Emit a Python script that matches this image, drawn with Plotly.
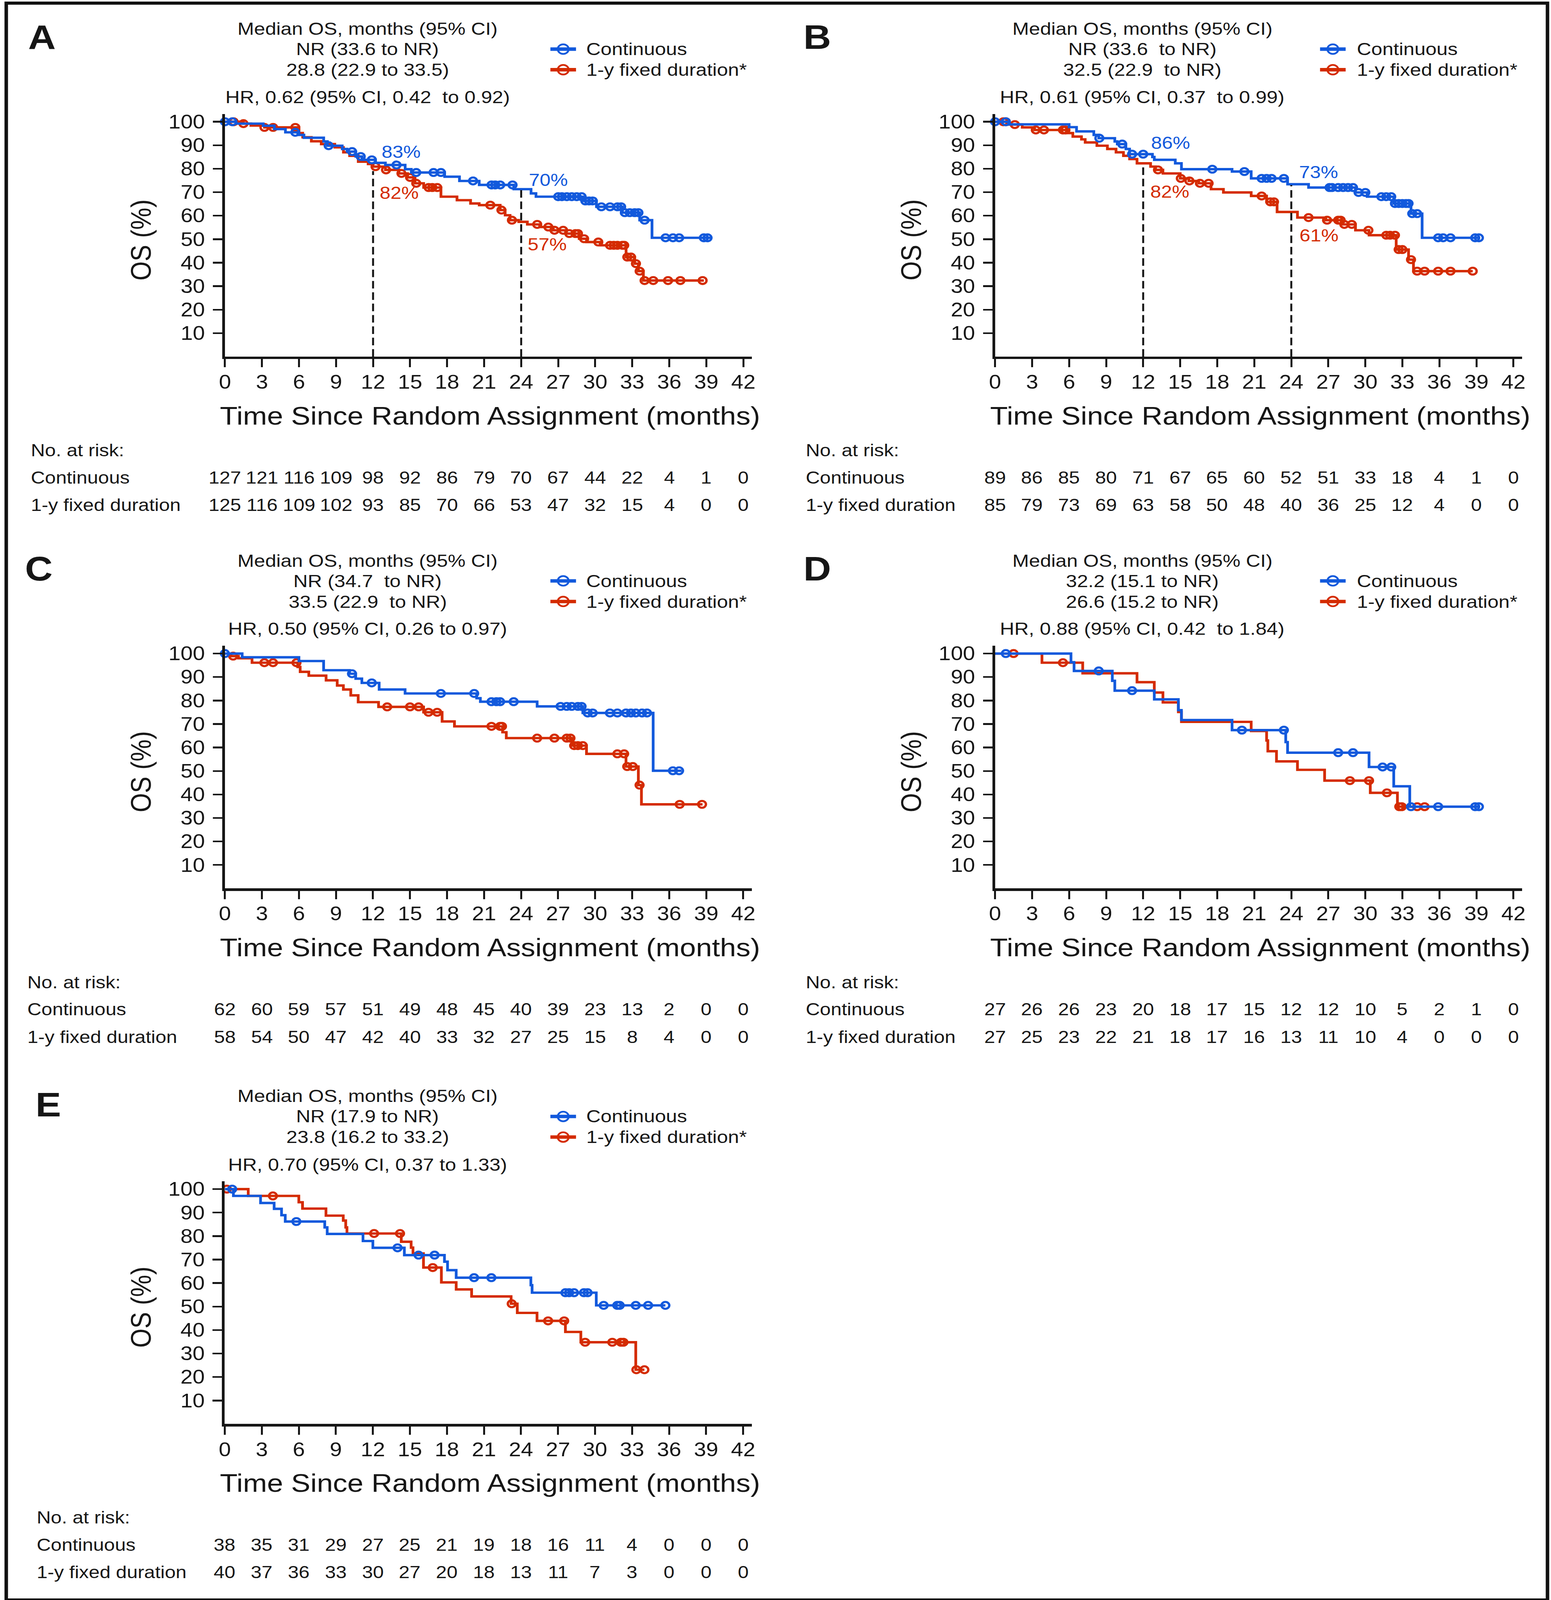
import numpy as np
import plotly.graph_objects as go

W, H = 3971, 4650
BLUE = "#1259DC"
RED = "#D42B00"
INK = "#161616"
FONT = "Liberation Sans, Arial, Helvetica, sans-serif"

# ---------------- shared labels ----------------
x_ticks = [0, 3, 6, 9, 12, 15, 18, 21, 24, 27, 30, 33, 36, 39, 42]
y_ticks = [10, 20, 30, 40, 50, 60, 70, 80, 90, 100]
x_title = "Time Since Random Assignment (months)"
y_title = "OS (%)"
legend_labels = ["Continuous", "1-y fixed duration*"]
risk_title = "No. at risk:"
risk_labels = ["Continuous", "1-y fixed duration"]

# ---------------- Panel A ----------------
A_header = ["Median OS, months (95% CI)", "NR (33.6 to NR)", "28.8 (22.9 to 33.5)",
            "HR, 0.62 (95% CI, 0.42\u00a0 to 0.92)"]
A_cont_t = [0.9, 3.1, 4.0, 4.9, 5.9, 6.4, 8.0, 8.3, 9.5, 9.9, 10.6, 11.1, 12.2, 13.0, 14.6, 15.1,
            17.8, 19.0, 20.6, 23.4, 24.8, 25.2, 29.0, 30.1, 32.2, 33.6, 34.6]
A_cont_s = [99.2, 98.3, 96.9, 95.5, 94.4, 93.2, 91.6, 89.8, 88.4, 87.3, 85.2, 83.8, 82.5, 81.6, 79.8, 78.4,
            76.6, 74.8, 73.1, 71.3, 69.5, 68.1, 66.3, 63.8, 61.3, 58.1, 50.6]
A_cont_end = 39.4
A_cont_cens = [0.0, 0.6, 5.7, 8.4, 10.3, 11.0, 11.9, 13.9, 15.5, 16.9, 17.5, 20.1, 21.6, 21.9, 22.3, 23.3,
               27.0, 27.3, 27.7, 28.1, 28.5, 28.9, 29.2, 29.5, 29.8, 30.5, 31.2, 31.8, 32.1, 32.4, 32.8,
               33.2, 33.5, 34.0, 35.7, 36.3, 36.8, 38.8, 39.1]
A_fix_t = [1.5, 2.1, 3.2, 6.0, 6.3, 7.0, 7.8, 8.9, 9.6, 10.1, 10.8, 11.6, 12.0, 13.0, 14.1, 14.8, 15.4,
           16.1, 17.5, 18.8, 19.9, 20.6, 22.3, 22.7, 23.1, 23.8, 24.5, 25.5, 26.6, 27.6, 28.7, 29.3,
           30.4, 32.5, 33.2, 33.5, 33.9]
A_fix_s = [99.2, 98.4, 97.6, 95.2, 93.4, 91.7, 90.5, 89.1, 87.0, 85.5, 83.0, 82.0, 80.9, 79.5, 78.0, 76.3,
           73.8, 72.0, 68.1, 66.6, 65.2, 64.5, 62.4, 60.2, 58.1, 57.4, 56.3, 55.2, 53.8, 52.4, 50.2, 48.8,
           47.4, 42.4, 39.6, 36.4, 32.4]
A_fix_end = 38.8
A_fix_cens = [0.7, 1.5, 3.2, 3.9, 5.7, 12.2, 13.05, 14.3, 15.0, 15.5, 16.5, 16.8, 17.2, 21.5, 22.4, 23.25,
              25.3, 26.2, 26.7, 27.4, 27.9, 28.4, 28.6, 29.1, 30.25, 31.2, 31.5, 31.8, 32.2, 32.35, 32.6,
              32.9, 33.3, 33.6, 34.0, 34.7, 35.9, 36.9, 38.7]
A_cont_risk = [127, 121, 116, 109, 98, 92, 86, 79, 70, 67, 44, 22, 4, 1, 0]
A_fix_risk = [125, 116, 109, 102, 93, 85, 70, 66, 53, 47, 32, 15, 4, 0, 0]
A_pct_text = ["83%", "70%", "82%", "57%"]
A_dash_t = [12, 24]
A_dash_top = [79, 71]

# ---------------- Panel B ----------------
B_header = ["Median OS, months (95% CI)", "NR (33.6\u00a0 to NR)", "32.5 (22.9\u00a0 to NR)",
            "HR, 0.61 (95% CI, 0.37\u00a0 to 0.99)"]
B_cont_t = [1.1, 6.0, 6.6, 8.0, 8.4, 9.7, 9.9, 10.6, 10.9, 12.75, 12.9, 14.6, 15.1, 19.2, 20.75, 23.7,
            25.4, 29.2, 30.15, 32.3, 33.7, 34.6]
B_cont_s = [98.9, 97.7, 95.9, 94.4, 93.0, 91.6, 90.5, 88.4, 86.2, 85.0, 83.8, 82.3, 79.8, 78.8, 75.9, 73.4,
            72.0, 69.9, 68.1, 65.2, 60.9, 50.6]
B_cont_end = 39.3
B_cont_cens = [0.0, 0.87, 8.45, 10.3, 11.1, 12.0, 17.6, 20.2, 21.6, 22.0, 22.4, 23.4, 27.1, 27.3, 27.8,
               28.2, 28.6, 29.0, 29.45, 30.0, 31.3, 31.7, 32.1, 32.4, 32.7, 33.0, 33.3, 33.5, 33.8, 34.2,
               35.9, 36.3, 36.9, 38.9, 39.2]
B_fix_t = [1.1, 2.2, 3.2, 5.9, 6.3, 7.0, 7.3, 8.25, 9.1, 9.8, 10.4, 10.9, 11.5, 12.6, 13.0, 13.6, 15.0,
           15.7, 16.5, 17.5, 18.5, 20.75, 22.0, 22.85, 24.5, 26.8, 28.05, 29.2, 30.3, 32.5, 33.5, 33.9]
B_fix_s = [98.8, 97.6, 96.5, 95.2, 93.7, 92.5, 91.2, 89.8, 88.4, 87.0, 85.5, 84.1, 82.3, 80.9, 79.5, 78.0,
           75.9, 74.8, 73.8, 71.3, 69.9, 68.4, 65.9, 61.6, 59.2, 58.1, 56.3, 53.8, 51.7, 45.6, 41.3, 36.4]
B_fix_end = 38.7
B_fix_cens = [0.67, 0.87, 1.6, 3.3, 3.96, 5.5, 5.7, 13.2, 15.05, 15.75, 16.6, 17.3, 21.6, 22.3, 22.6,
              25.4, 26.9, 27.8, 28.0, 28.3, 28.9, 30.25, 31.7, 32.0, 32.4, 32.7, 33.0, 33.7, 34.2, 34.8,
              35.9, 36.9, 38.7]
B_cont_risk = [89, 86, 85, 80, 71, 67, 65, 60, 52, 51, 33, 18, 4, 1, 0]
B_fix_risk = [85, 79, 73, 69, 63, 58, 50, 48, 40, 36, 25, 12, 4, 0, 0]
B_pct_text = ["86%", "73%", "82%", "61%"]
B_dash_t = [12, 24]
B_dash_top = [82, 73]

# ---------------- Panel C ----------------
C_header = ["Median OS, months (95% CI)", "NR (34.7\u00a0 to NR)", "33.5 (22.9\u00a0 to NR)",
            "HR, 0.50 (95% CI, 0.26 to 0.97)"]
C_cont_t = [1.4, 6.0, 8.0, 10.1, 10.6, 11.1, 12.5, 14.6, 20.4, 20.7, 25.3, 29.0, 34.7]
C_cont_s = [98.4, 96.8, 92.9, 91.4, 89.3, 87.5, 84.7, 83.0, 81.0, 79.5, 77.5, 74.7, 50.1]
C_cont_end = 37.0
C_cont_cens = [0.0, 10.3, 11.9, 17.5, 20.2, 21.6, 22.0, 22.3, 23.4, 27.2, 27.7, 28.1, 28.6, 28.9, 29.4,
               29.8, 31.2, 31.8, 32.5, 32.9, 33.3, 33.8, 34.2, 36.3, 36.8]
C_fix_t = [0.5, 1.1, 2.2, 5.9, 6.1, 6.8, 8.2, 9.1, 9.6, 10.2, 10.8, 12.45, 16.1, 17.6, 18.6, 22.5, 22.8,
           28.15, 29.3, 32.5, 33.5, 33.75]
C_fix_s = [98.9, 98.0, 96.1, 94.3, 92.2, 90.6, 88.6, 86.4, 84.7, 82.2, 79.3, 77.3, 75.0, 71.1, 69.0, 66.5,
           64.0, 60.8, 57.3, 51.9, 44.0, 35.8]
C_fix_end = 38.7
C_fix_cens = [0.67, 3.2, 3.9, 5.8, 13.15, 15.0, 15.7, 16.5, 17.2, 21.6, 22.3, 22.45, 25.3, 26.7, 27.7,
              28.0, 28.3, 28.6, 29.0, 31.8, 32.35, 32.6, 33.05, 33.6, 36.85, 38.66]
C_cont_risk = [62, 60, 59, 57, 51, 49, 48, 45, 40, 39, 23, 13, 2, 0, 0]
C_fix_risk = [58, 54, 50, 47, 42, 40, 33, 32, 27, 25, 15, 8, 4, 0, 0]

# ---------------- Panel D ----------------
D_header = ["Median OS, months (95% CI)", "32.2 (15.1 to NR)", "26.6 (15.2 to NR)",
            "HR, 0.88 (95% CI, 0.42\u00a0 to 1.84)"]
D_cont_t = [6.15, 6.4, 9.5, 9.7, 12.9, 14.85, 15.1, 19.2, 23.55, 23.7, 30.3, 32.3, 33.6]
D_cont_s = [96.3, 92.6, 88.4, 84.2, 80.5, 75.9, 71.7, 67.4, 62.3, 57.8, 51.7, 43.5, 34.8]
D_cont_end = 39.2
D_cont_cens = [0.87, 8.4, 11.1, 20.0, 23.4, 27.8, 29.0, 31.4, 32.1, 33.7, 35.9, 38.9, 39.2]
D_fix_t = [3.8, 7.1, 11.5, 12.9, 13.6, 14.85, 15.1, 20.75, 22.0, 22.1, 22.8, 24.5, 26.7, 30.4, 32.6]
D_fix_s = [96.1, 91.6, 87.8, 83.4, 79.2, 75.1, 70.9, 67.0, 63.0, 58.4, 54.1, 50.5, 45.9, 40.7, 34.8]
D_fix_end = 34.9
D_fix_cens = [1.5, 5.5, 28.75, 30.3, 31.75, 32.75, 32.95, 34.2, 34.8]
D_cont_risk = [27, 26, 26, 23, 20, 18, 17, 15, 12, 12, 10, 5, 2, 1, 0]
D_fix_risk = [27, 25, 23, 22, 21, 18, 17, 16, 13, 11, 10, 4, 0, 0, 0]

# ---------------- Panel E ----------------
E_header = ["Median OS, months (95% CI)", "NR (17.9 to NR)", "23.8 (16.2 to 33.2)",
            "HR, 0.70 (95% CI, 0.37 to 1.33)"]
E_cont_t = [0.7, 2.9, 4.0, 4.6, 4.9, 8.1, 8.3, 11.2, 12.0, 14.55, 17.8, 18.05, 18.75, 24.8, 24.9, 30.1]
E_cont_s = [97.1, 94.1, 91.6, 88.9, 86.2, 83.7, 80.9, 77.9, 75.0, 71.9, 69.1, 65.5, 62.3, 59.1, 55.9, 50.5]
E_cont_end = 35.7
E_cont_cens = [0.6, 5.8, 14.0, 15.7, 17.0, 20.2, 21.6, 27.6, 27.9, 28.3, 29.1, 29.4, 30.7, 31.8, 32.0,
               33.3, 34.3, 35.7]
E_fix_t = [1.9, 6.0, 6.3, 8.2, 9.6, 9.8, 9.9, 14.3, 15.1, 15.25, 16.1, 17.55, 18.75, 20.0, 23.2, 23.7,
           25.3, 27.6, 28.85, 33.3]
E_fix_s = [97.1, 94.4, 91.7, 88.7, 86.6, 83.7, 81.1, 77.6, 75.1, 72.6, 66.6, 60.3, 57.3, 54.3, 51.2, 47.3,
           43.9, 39.2, 34.8, 23.1]
E_fix_end = 34.0
E_fix_cens = [0.17, 3.9, 12.1, 14.2, 16.85, 23.25, 26.2, 27.5, 29.2, 31.4, 32.1, 32.3, 33.35, 34.0]
E_cont_risk = [38, 35, 31, 29, 27, 25, 21, 19, 18, 16, 11, 4, 0, 0, 0]
E_fix_risk = [40, 37, 36, 33, 30, 27, 20, 18, 13, 11, 7, 3, 0, 0, 0]

# ---------------- layout geometry (pixels) ----------------
XSPAN = 42.7      # visible months
PXM = 31.8        # px per month
PXU = 6.84        # px per % unit
YTOP = 103.3

panels = [
    dict(letter="A", header=A_header,
         cont=(A_cont_t, A_cont_s, A_cont_end, A_cont_cens), fix=(A_fix_t, A_fix_s, A_fix_end, A_fix_cens),
         risk=(A_cont_risk, A_fix_risk), X0=563.5, Y0=1029.5, hx=931, lx=1435, tx=1492,
         letter_x=54, risk_x=61,
         pct=[(A_pct_text[0], 14.28, 87.1, BLUE), (A_pct_text[1], 26.2, 75.2, BLUE),
              (A_pct_text[2], 14.12, 69.7, RED), (A_pct_text[3], 26.1, 47.7, RED)],
         dash=list(zip(A_dash_t, A_dash_top))),
    dict(letter="B", header=B_header,
         cont=(B_cont_t, B_cont_s, B_cont_end, B_cont_cens), fix=(B_fix_t, B_fix_s, B_fix_end, B_fix_cens),
         risk=(B_cont_risk, B_fix_risk), X0=2547.7, Y0=1029.5, hx=2927, lx=3418, tx=3478,
         letter_x=2052, risk_x=2058,
         pct=[(B_pct_text[0], 14.22, 91.1, BLUE), (B_pct_text[1], 26.2, 78.4, BLUE),
              (B_pct_text[2], 14.15, 70.2, RED), (B_pct_text[3], 26.25, 51.5, RED)],
         dash=list(zip(B_dash_t, B_dash_top))),
    dict(letter="C", header=C_header,
         cont=(C_cont_t, C_cont_s, C_cont_end, C_cont_cens), fix=(C_fix_t, C_fix_s, C_fix_end, C_fix_cens),
         risk=(C_cont_risk, C_fix_risk), X0=563.3, Y0=2578.0, hx=931, lx=1435, tx=1492,
         letter_x=46, risk_x=52, pct=[], dash=[]),
    dict(letter="D", header=D_header,
         cont=(D_cont_t, D_cont_s, D_cont_end, D_cont_cens), fix=(D_fix_t, D_fix_s, D_fix_end, D_fix_cens),
         risk=(D_cont_risk, D_fix_risk), X0=2547.7, Y0=2578.0, hx=2927, lx=3418, tx=3478,
         letter_x=2052, risk_x=2058, pct=[], dash=[]),
    dict(letter="E", header=E_header,
         cont=(E_cont_t, E_cont_s, E_cont_end, E_cont_cens), fix=(E_fix_t, E_fix_s, E_fix_end, E_fix_cens),
         risk=(E_cont_risk, E_fix_risk), X0=563.0, Y0=4137.5, hx=931, lx=1435, tx=1492,
         letter_x=73, risk_x=76, pct=[], dash=[]),
]


def px(x):
    return x / W


def py(y):
    return 1 - y / H


def surv_at(t_steps, s_steps, times):
    idx = np.searchsorted(np.asarray(t_steps), np.asarray(times), side="right")
    levels = np.concatenate([[100.0], np.asarray(s_steps, dtype=float)])
    return levels[idx]


fig = go.Figure()
shapes = []
annotations = []
axes = {}

for i, p in enumerate(panels, start=1):
    xa = "x" if i == 1 else f"x{i}"
    ya = "y" if i == 1 else f"y{i}"
    X0, Y0 = p["X0"], p["Y0"]

    # KM curves: red first, blue on top
    for arm, color in (("fix", RED), ("cont", BLUE)):
        t, s, end, cens = p[arm]
        xs = [0.0] + list(t) + [end]
        ys = [100.0] + list(s) + [s[-1]]
        fig.add_trace(go.Scatter(x=xs, y=ys, mode="lines", line=dict(color=color, width=7, shape="hv"),
                                 xaxis=xa, yaxis=ya, showlegend=False, hoverinfo="skip", cliponaxis=False))
        fig.add_trace(go.Scatter(x=cens, y=surv_at(t, s, cens), mode="markers",
                                 marker=dict(symbol="circle-open", size=20, color=color,
                                             line=dict(width=6, color=color)),
                                 xaxis=xa, yaxis=ya, showlegend=False, hoverinfo="skip", cliponaxis=False))

    # axes
    xkey = "xaxis" if i == 1 else f"xaxis{i}"
    ykey = "yaxis" if i == 1 else f"yaxis{i}"
    axes[xkey] = dict(domain=[px(X0), px(X0 + XSPAN * PXM)], range=[0, XSPAN], anchor=ya,
                      tickmode="array", tickvals=x_ticks, ticktext=[str(v) for v in x_ticks],
                      ticks="outside", ticklen=24, tickwidth=5, tickcolor=INK,
                      showline=True, linewidth=7, linecolor=INK, showgrid=False, zeroline=False,
                      tickfont=dict(family=FONT, size=56, color=INK), ticklabelstandoff=-5,
                      fixedrange=True)
    axes[ykey] = dict(domain=[py(Y0), py(Y0 - YTOP * PXU)], range=[0, YTOP], anchor=xa,
                      tickmode="array", tickvals=y_ticks, ticktext=[str(v) for v in y_ticks],
                      ticks="outside", ticklen=24, tickwidth=5, tickcolor=INK,
                      showline=True, linewidth=7, linecolor=INK, showgrid=False, zeroline=False,
                      tickfont=dict(family=FONT, size=56, color=INK), ticklabelstandoff=9,
                      fixedrange=True)

    # axis titles
    annotations.append(dict(text=x_title, x=px(X0 + 683), y=py(Y0 + 172), xref="paper", yref="paper",
                            xanchor="center", yanchor="middle", showarrow=False,
                            font=dict(family=FONT, size=74, color=INK)))
    annotations.append(dict(text=y_title, x=px(X0 - 216), y=py(Y0 - 340), xref="paper", yref="paper",
                            xanchor="center", yanchor="middle", showarrow=False, textangle=-90,
                            font=dict(family=FONT, size=72, color=INK)))

    # panel letter
    annotations.append(dict(text="<b>" + p["letter"] + "</b>", x=px(p["letter_x"]), y=py(Y0 - 930.5),
                            xref="paper", yref="paper", xanchor="left", yanchor="middle",
                            showarrow=False, font=dict(family=FONT, size=98, color=INK)))

    # header block
    for txt, dy in zip(p["header"], (-954.5, -895.5, -835.5, -755.5)):
        annotations.append(dict(text=txt, x=px(p["hx"]), y=py(Y0 + dy), xref="paper", yref="paper",
                                xanchor="center", yanchor="middle", showarrow=False,
                                font=dict(family=FONT, size=51, color=INK)))

    # legend (drawn)
    for lab, color, dy in zip(legend_labels, (BLUE, RED), (-895.5, -835.5)):
        yc = Y0 + dy
        shapes.append(dict(type="line", xref="paper", yref="paper",
                           x0=px(p["lx"] - 33), x1=px(p["lx"] + 33), y0=py(yc), y1=py(yc),
                           line=dict(color=color, width=10)))
        shapes.append(dict(type="circle", xref="paper", yref="paper",
                           x0=px(p["lx"] - 14), x1=px(p["lx"] + 14), y0=py(yc + 14), y1=py(yc - 14),
                           line=dict(color=color, width=5)))
        annotations.append(dict(text=lab, x=px(p["tx"]), y=py(yc), xref="paper", yref="paper",
                                xanchor="left", yanchor="middle", showarrow=False,
                                font=dict(family=FONT, size=51, color=INK)))

    # risk table
    annotations.append(dict(text=risk_title, x=px(p["risk_x"]), y=py(Y0 + 273.5), xref="paper",
                            yref="paper", xanchor="left", yanchor="middle", showarrow=False,
                            font=dict(family=FONT, size=50, color=INK)))
    for lab, row, dy in zip(risk_labels, p["risk"], (352.5, 432.5)):
        annotations.append(dict(text=lab, x=px(p["risk_x"]), y=py(Y0 + dy), xref="paper", yref="paper",
                                xanchor="left", yanchor="middle", showarrow=False,
                                font=dict(family=FONT, size=50, color=INK)))
        for tv, n in zip(x_ticks, row):
            annotations.append(dict(text=str(n), x=tv, y=py(Y0 + dy), xref=xa, yref="paper",
                                    xanchor="center", yanchor="middle", showarrow=False,
                                    font=dict(family=FONT, size=50, color=INK)))

    # landmark dashed lines and percentages
    for tv, top in p["dash"]:
        shapes.append(dict(type="line", xref=xa, yref=ya, x0=tv, x1=tv, y0=0, y1=top,
                           line=dict(color=INK, width=5, dash="22px,11px")))
    for txt, tx_, ty_, color in p["pct"]:
        annotations.append(dict(text=txt, x=tx_, y=ty_, xref=xa, yref=ya, xanchor="center",
                                yanchor="middle", showarrow=False,
                                font=dict(family=FONT, size=50, color=color)))

# outer frame
shapes.append(dict(type="rect", xref="paper", yref="paper", x0=0, x1=1, y0=0, y1=1,
                   line=dict(color="#111111", width=9), fillcolor="rgba(0,0,0,0)"))

fig.update_layout(width=W, height=H, margin=dict(l=0, r=0, t=0, b=0),
                  paper_bgcolor="white", plot_bgcolor="white", showlegend=False,
                  shapes=shapes, annotations=annotations, **axes)

FIT_JS = """
(function(){
  var d = document.documentElement, b = document.body;
  d.style.margin = '0'; d.style.padding = '0'; d.style.overflow = 'hidden';
  b.style.margin = '0'; b.style.padding = '0'; b.style.overflow = 'hidden';
  var gd = document.getElementById('{plot_id}');
  gd.style.position = 'absolute'; gd.style.left = '0px'; gd.style.top = '0px';
  var vw = window.innerWidth || d.clientWidth, vh = window.innerHeight || d.clientHeight;
  var sx = Math.min(1, vw / 3971), sy = Math.min(1, vh / 4650);
  gd.style.transformOrigin = '0 0';
  gd.style.transform = 'scale(' + sx + ',' + sy + ')';
})();
"""

fig.write_html("out.html", config={"displayModeBar": False}, post_script=FIT_JS)
